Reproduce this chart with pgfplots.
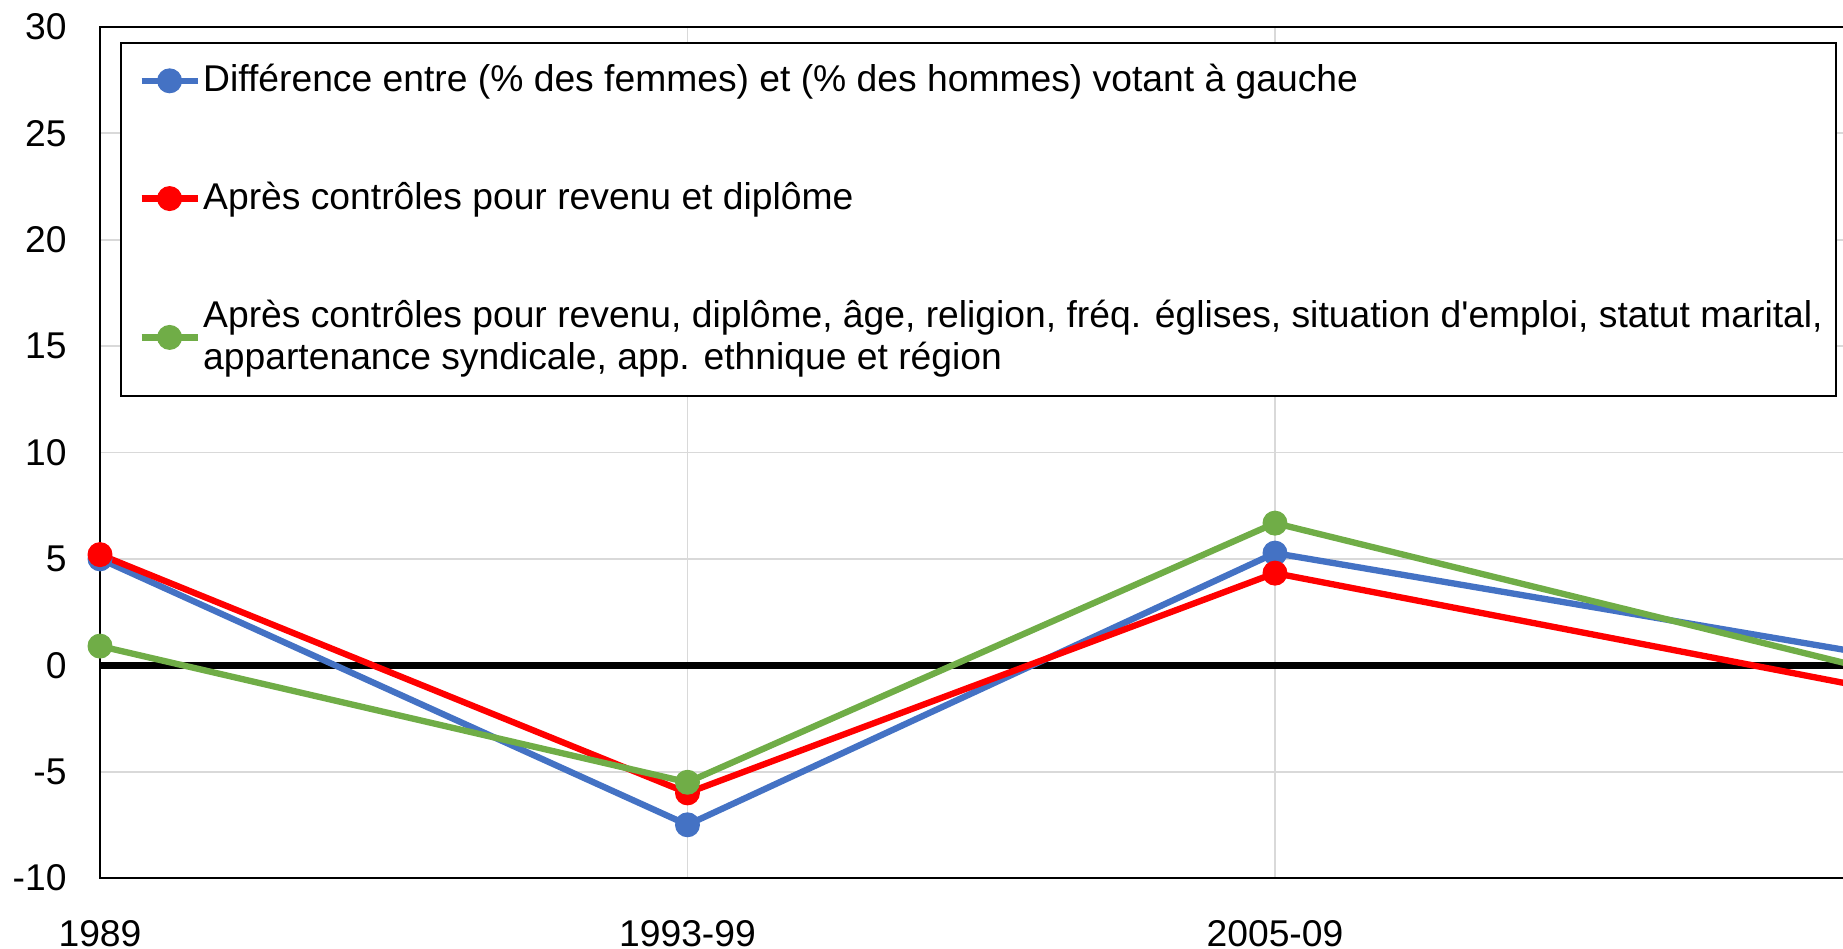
\documentclass[border=0pt]{standalone}
\usepackage{fontspec}
\setmainfont{Liberation Sans}[Ligatures=TeXOff]
\usepackage{pgfplots}
\pgfplotsset{compat=1.18}
\definecolor{sblue}{HTML}{4472C4}
\definecolor{sred}{HTML}{FF0000}
\definecolor{sgreen}{HTML}{70AD47}
\definecolor{gridgray}{HTML}{D9D9D9}
\begin{document}
\begin{tikzpicture}
\begin{axis}[
  at={(10mm,7.1mm)}, anchor=south west,
  scale only axis, width=176.25mm, height=85.1mm,
  xmin=0, xmax=3, ymin=-10, ymax=30,
  xtick={0,1,2,3}, xticklabels={1989,1993-99,2005-09,{}},
  ytick={-10,-5,0,5,10,15,20,25,30},
  yticklabels={-10,-5,0,5,10,15,20,25,30},
  major tick length=0pt,
  grid=major, grid style={gridgray, line width=0.5pt},
  axis line style={black, line width=0.7pt},
  extra y ticks={0}, extra y tick labels={},
  extra y tick style={grid style={black, line width=1.9pt}},
  ticklabel style={font=\fontsize{10.6}{12.7}\selectfont},
  yticklabel style={xshift=-2.1mm},
  xticklabel style={yshift=-3mm},
  legend style={at={(0.01135,0.9824)}, anchor=north west, draw=black,
    line width=0.6pt, font=\fontsize{10.6}{12.0}\selectfont,
    inner ysep=4.1pt,
    row sep=20.2pt, cells={align=left}, nodes={inner xsep=0.7pt}},
  legend cell align=left,
  legend image code/.code={%
    \path[draw=none, fill=none] (0mm,0) -- (6.9mm,0);
    \draw[#1, mark repeat=2, mark phase=2] plot coordinates {(1.0mm,0mm) (3.8mm,0mm) (6.6mm,0mm)};},
  every axis plot/.append style={line width=1.8pt, mark=*, mark size=3.4pt,
    mark options={line width=0.3pt}},
]
\addplot[color=sblue] coordinates {(0,5.0) (1,-7.5) (2,5.27) (3,0.58)};
\addlegendentry{Différence entre (\% des femmes) et (\% des hommes) votant à gauche}
\addplot[color=sred] coordinates {(0,5.2) (1,-6.0) (2,4.33) (3,-1.0)};
\addlegendentry{Après contrôles pour revenu et diplôme}
\addplot[color=sgreen] coordinates {(0,0.9) (1,-5.5) (2,6.68) (3,-0.1)};
\addlegendentry{Après contrôles pour revenu, diplôme, âge, religion, fréq. églises, situation d'emploi, statut marital,\\appartenance syndicale, app. ethnique et région}
\end{axis}
\pgfresetboundingbox
\path[use as bounding box] (0,0) rectangle (184.3mm,94.9mm);
\end{tikzpicture}
\end{document}
